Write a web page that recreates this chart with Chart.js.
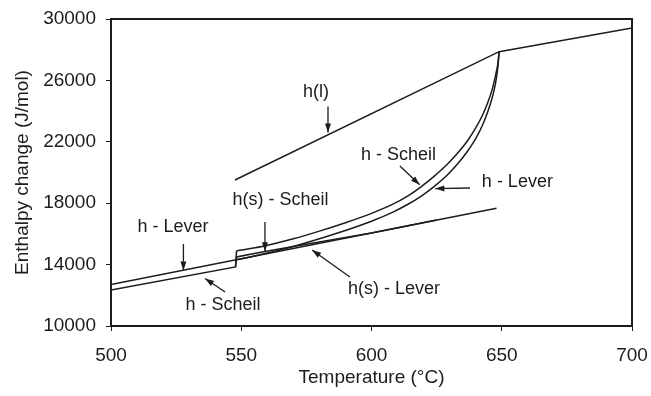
<!DOCTYPE html>
<html>
<head>
<meta charset="utf-8">
<script src="https://cdn.jsdelivr.net/npm/chart.js@4/dist/chart.umd.min.js"></script>
<style>
  body { margin: 0; background: #fff; }
  canvas { display: block; }
</style>
</head>
<body>
<canvas id="enthalpy" width="651" height="396"></canvas>
<script>
// temperature (°C) / enthalpy (J/mol)
const liquidT = [547.6, 649, 700];
const liquidH = [19510, 27870, 29420];

// Scheil: straight solid part with the eutectic step, then the curved part
const scheilSolidT = [500, 547.8, 548.2];
const scheilSolidH = [12350, 13850, 14900];
const scheilT = [548.2, 558, 570, 580, 590, 600, 608, 614, 619, 624, 629, 633, 637, 640, 642.5, 644.5, 646.3, 647.6, 648.5, 649];
const scheilH = [14900, 15180, 15680, 16180, 16730, 17340, 17920, 18480, 19070, 19750, 20520, 21250, 22100, 22900, 23700, 24500, 25400, 26300, 27100, 27870];

const leverT = [548, 553, 560, 570, 580, 590, 600, 608, 614, 619, 624, 629, 633, 637, 640, 642.5, 644.5, 646.3, 647.6, 648.5, 649];
const leverH = [14310, 14480, 14750, 15180, 15680, 16220, 16820, 17400, 17930, 18450, 19080, 19820, 20550, 21420, 22200, 23050, 23900, 24850, 25800, 26850, 27870];

const solidScheilT = [547.8, 548.2, 558, 570, 585, 600, 625];
const solidScheilH = [13850, 14500, 14820, 15180, 15620, 16060, 16900];

const solidLeverT = [500, 648];
const solidLeverH = [12700, 17670];

const xTicks = [500, 550, 600, 650, 700];
const yMin = 10000, yMax = 30000, yStep = 4000;

// annotation labels: text, label centre, arrow tail, arrow tip (data units)
const notes = [
    { text: "h(l)",          at: [578.7, 25250], from: [583.3, 24300], to: [583.3, 22600] },
    { text: "h - Scheil",    at: [610.4, 21140], from: [610.9, 20420], to: [618.5, 19200] },
    { text: "h - Lever",     at: [656.0, 19400], from: [637.8, 18990], to: [624.5, 18950] },
    { text: "h(s) - Scheil", at: [565.1, 18210], from: [559.1, 16780], to: [559.1, 14870] },
    { text: "h - Lever",     at: [523.8, 16450], from: [527.8, 15340], to: [527.8, 13620] },
    { text: "h - Scheil",    at: [543.0, 11370], from: [543.8, 12220], to: [536.1, 13100] },
    { text: "h(s) - Lever",  at: [608.6, 12410], from: [591.7, 13190], to: [577.2, 14950] }
];

function pts(xs, ys) {
    return xs.map((x, i) => ({ x: x, y: ys[i] }));
}

const ink = "#1c1c1c";
const fontFam = "'Liberation Sans', Arial, sans-serif";

function line(label, xs, ys, smooth) {
    return {
        label: label,
        data: pts(xs, ys),
        showLine: true,
        borderColor: ink,
        borderWidth: 1.5,
        pointRadius: 0,
        fill: false,
        cubicInterpolationMode: smooth ? "monotone" : "default",
        tension: 0
    };
}

const frameAndNotes = {
    id: "frameAndNotes",
    afterDatasetsDraw(chart) {
        const ctx = chart.ctx;
        const a = chart.chartArea;
        const xs = chart.scales.x, ys = chart.scales.y;
        ctx.save();
        ctx.strokeStyle = ink;
        ctx.lineWidth = 2;
        ctx.strokeRect(a.left, a.top, a.right - a.left, a.bottom - a.top);

        ctx.font = "18px " + fontFam;
        ctx.fillStyle = ink;
        ctx.textAlign = "center";
        ctx.textBaseline = "middle";
        ctx.lineWidth = 1.3;
        notes.forEach(n => {
            ctx.fillText(n.text, xs.getPixelForValue(n.at[0]), ys.getPixelForValue(n.at[1]));
            const x1 = xs.getPixelForValue(n.from[0]), y1 = ys.getPixelForValue(n.from[1]);
            const x2 = xs.getPixelForValue(n.to[0]), y2 = ys.getPixelForValue(n.to[1]);
            ctx.beginPath();
            ctx.moveTo(x1, y1);
            ctx.lineTo(x2, y2);
            ctx.stroke();
            const ang = Math.atan2(y2 - y1, x2 - x1);
            const len = 9, half = 3;
            ctx.beginPath();
            ctx.moveTo(x2, y2);
            ctx.lineTo(x2 - len * Math.cos(ang) + half * Math.sin(ang), y2 - len * Math.sin(ang) - half * Math.cos(ang));
            ctx.lineTo(x2 - len * Math.cos(ang) - half * Math.sin(ang), y2 - len * Math.sin(ang) + half * Math.cos(ang));
            ctx.closePath();
            ctx.fill();
        });
        ctx.restore();
    }
};

new Chart("enthalpy", {
    type: "scatter",
    data: {
        datasets: [
            line("h(l)", liquidT, liquidH, false),
            line("h - Scheil (solid)", scheilSolidT, scheilSolidH, false),
            line("h - Scheil", scheilT, scheilH, true),
            line("h - Lever", leverT, leverH, true),
            line("h(s) - Scheil", solidScheilT, solidScheilH, false),
            line("h(s) - Lever", solidLeverT, solidLeverH, false)
        ]
    },
    options: {
        responsive: false,
        animation: false,
        layout: { padding: { top: 19, right: 19, left: 0, bottom: 0 } },
        plugins: {
            legend: { display: false },
            tooltip: { enabled: false }
        },
        scales: {
            x: {
                type: "linear",
                min: xTicks[0],
                max: xTicks[xTicks.length - 1],
                afterBuildTicks: s => { s.ticks = xTicks.map(v => ({ value: v })); },
                afterFit: s => { s.height = 70; s.paddingLeft = 0; s.paddingRight = 0; },
                grid: { drawOnChartArea: false, color: ink, tickLength: 5, lineWidth: 1 },
                border: { display: false },
                ticks: { color: ink, padding: 13, font: { family: fontFam, size: 19 }, maxRotation: 0 },
                title: {
                    display: true,
                    text: "Temperature (°C)",
                    color: ink,
                    font: { family: fontFam, size: 19 },
                    padding: { top: 0, bottom: 7 }
                }
            },
            y: {
                type: "linear",
                min: yMin,
                max: yMax,
                afterFit: s => { s.width = 111; s.paddingTop = 0; s.paddingBottom = 0; },
                grid: { drawOnChartArea: false, color: ink, tickLength: 5, lineWidth: 1 },
                border: { display: false },
                ticks: {
                    stepSize: yStep,
                    color: ink,
                    padding: 10,
                    font: { family: fontFam, size: 19 },
                    callback: v => String(v)
                },
                title: {
                    display: true,
                    text: "Enthalpy change (J/mol)",
                    color: ink,
                    font: { family: fontFam, size: 19 },
                    padding: { top: 11, bottom: 0 }
                }
            }
        }
    },
    plugins: [frameAndNotes]
});
</script>
</body>
</html>
